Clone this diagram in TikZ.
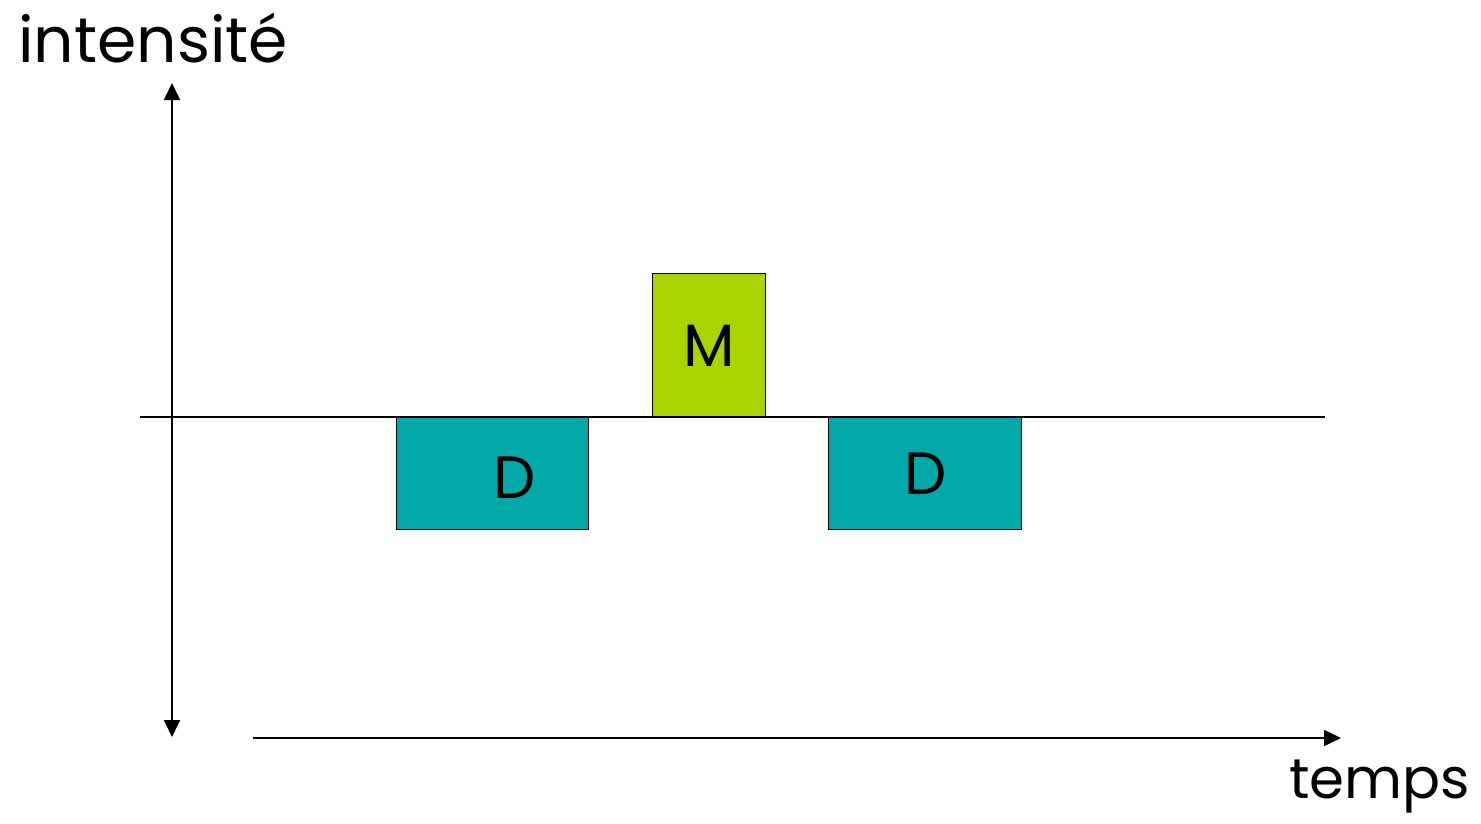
\documentclass[tikz,border=0pt]{standalone}
\usepackage{fontspec}
\setmainfont{Poppins}
\usetikzlibrary{arrows.meta}
\definecolor{dTeal}{RGB}{0,168,168}
\definecolor{mLime}{RGB}{168,212,0}
\tikzset{
  % axes and the zero line
  axis/.style={line width=0.9pt, black},
  tip/.style={-{Triangle[length=3.4mm,width=3.2mm]}},
  % coloured phase boxes
  phase/.style={draw=black, line width=0.8pt, minimum width=#1, inner sep=0pt, anchor=north west},
  lbl/.style={font=\fontsize{34}{40}\selectfont},
  ttl/.style={font=\fontsize{36}{42}\selectfont, inner sep=0pt},
}

\begin{document}
\begin{tikzpicture}[x=0.02cm, y=-0.02cm]
\useasboundingbox (0,0) rectangle (1481,823);

% --- axes ---------------------------------------------------------
\coordinate (ytop) at (172,83);
\coordinate (ybot) at (172,737);
\coordinate (z0) at (140,417);
\coordinate (z1) at (1325,417);
\coordinate (t0) at (253,738);
\coordinate (t1) at (1341,738);

\draw[axis, {Triangle[length=3.4mm,width=3.2mm]}-{Triangle[length=3.4mm,width=3.2mm]}] (ybot) -- (ytop);
\draw[axis, tip] (t0) -- (t1);

% --- boxes: D below the line, M above ----------------------------
\node[phase=3.84cm, fill=dTeal, minimum height=2.24cm] (dA) at (396,417) {};
\node[phase=2.26cm, fill=mLime, minimum height=2.88cm] (mB) at (652,273) {};
\node[phase=3.86cm, fill=dTeal, minimum height=2.24cm] (dB) at (828,417) {};

\draw[axis, line width=0.8pt] (z0) -- (z1);

\node[lbl] (dAl) at (515,478) {D};
\node[lbl] (mBl) at (mB.center) {M};
\node[lbl] (dBl) at (dB.center) {D};

% --- axis titles ----------------------------------------------------
\node[ttl, anchor=base west] (yl) at (18,62) {intensité};
\node[ttl, font=\fontsize{32}{38}\selectfont, anchor=base east] (tl) at (1470,798) {temps};

\end{tikzpicture}
\end{document}
